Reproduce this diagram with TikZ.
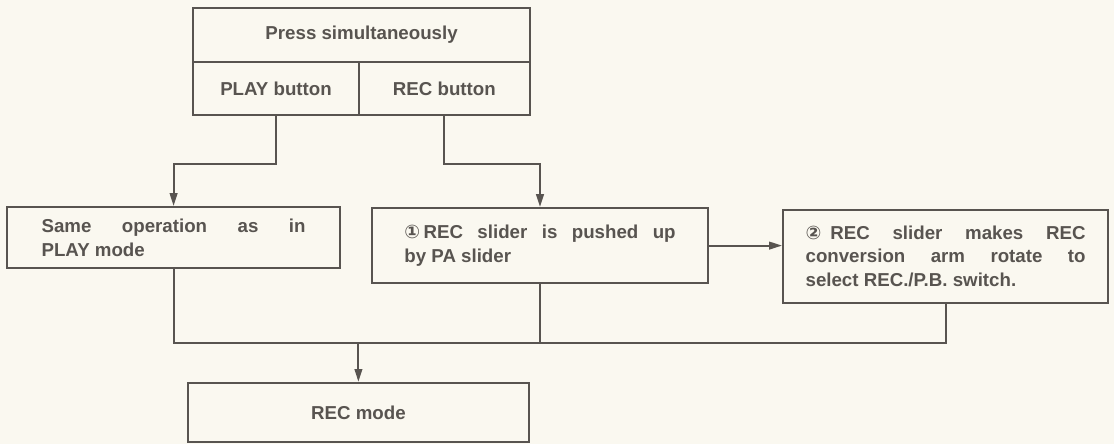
\documentclass[tikz,border=0pt]{standalone}
\usepackage{fontspec}
\setmainfont{Liberation Sans}
\newfontfamily\circfont{DejaVu Sans}
\usepackage{xcolor}
\usetikzlibrary{arrows.meta,positioning}
\definecolor{ink}{RGB}{88,84,80}
\definecolor{paper}{RGB}{250,248,240}
\newcommand{\stepno}[2]{\hangindent=#1\hangafter=1\noindent\makebox[#1][l]{\circfont #2}}

\begin{document}
\begin{tikzpicture}[
  box/.style={draw=ink, line width=1.4pt, text=ink, inner sep=2pt,
    font=\fontsize{13.3}{17}\selectfont\bfseries},
  >={Triangle[length=3.2mm,width=1.9mm]}
]
  \fill[paper] (0,0) rectangle (27.85,-11.1);
  \useasboundingbox (0,0) rectangle (27.85,-11.1);
  % top: the two buttons
  \node[box, minimum width=8.43cm, minimum height=1.35cm] (press) at (9.04,-0.875)
    {Press simultaneously};
  \node[box, minimum width=4.15cm, minimum height=1.33cm] (play) at (6.9,-2.21)
    {PLAY button};
  \node[box, minimum width=4.28cm, minimum height=1.33cm] (rec) at (11.11,-2.21)
    {REC button};
  % middle row
  \node[box, minimum width=8.33cm, minimum height=1.53cm, text width=6.6cm,
    align=justify] (same) at (4.34,-5.94)
    {Same operation as in\linebreak PLAY mode};
  \node[box, minimum width=8.4cm, minimum height=1.88cm, text width=6.78cm,
    align=justify] (pushed) at (13.5,-6.14)
    {\stepno{0.48cm}{①}REC slider is pushed up\linebreak by PA slider};
  \node[box, minimum width=8.13cm, minimum height=2.33cm, text width=7cm,
    align=justify] (makes) at (23.64,-6.41)
    {\stepno{0.62cm}{②}REC slider makes REC\linebreak conversion arm rotate to\linebreak
     select REC./P.B. switch.};
  % result
  \node[box, minimum width=8.53cm, minimum height=1.48cm] (recmode) at (8.96,-10.31)
    {REC mode};
  \coordinate (bus) at (8.96,-8.575);

  \draw[->, ink, line width=1.4pt] (play.south) -- ++(0,-1.2) -| (same.north);
  \draw[->, ink, line width=1.4pt] (rec.south) -- ++(0,-1.2) -| (pushed.north);
  \draw[->, ink, line width=1.4pt] (pushed.east) -- (pushed.east -| makes.west);
  \draw[ink, line width=1.4pt] (same.south) |- (bus) -| (makes.south);
  \draw[ink, line width=1.4pt] (pushed.south) -- (pushed.south |- bus);
  \draw[->, ink, line width=1.4pt] (bus) -- (recmode.north);
\end{tikzpicture}
\end{document}
